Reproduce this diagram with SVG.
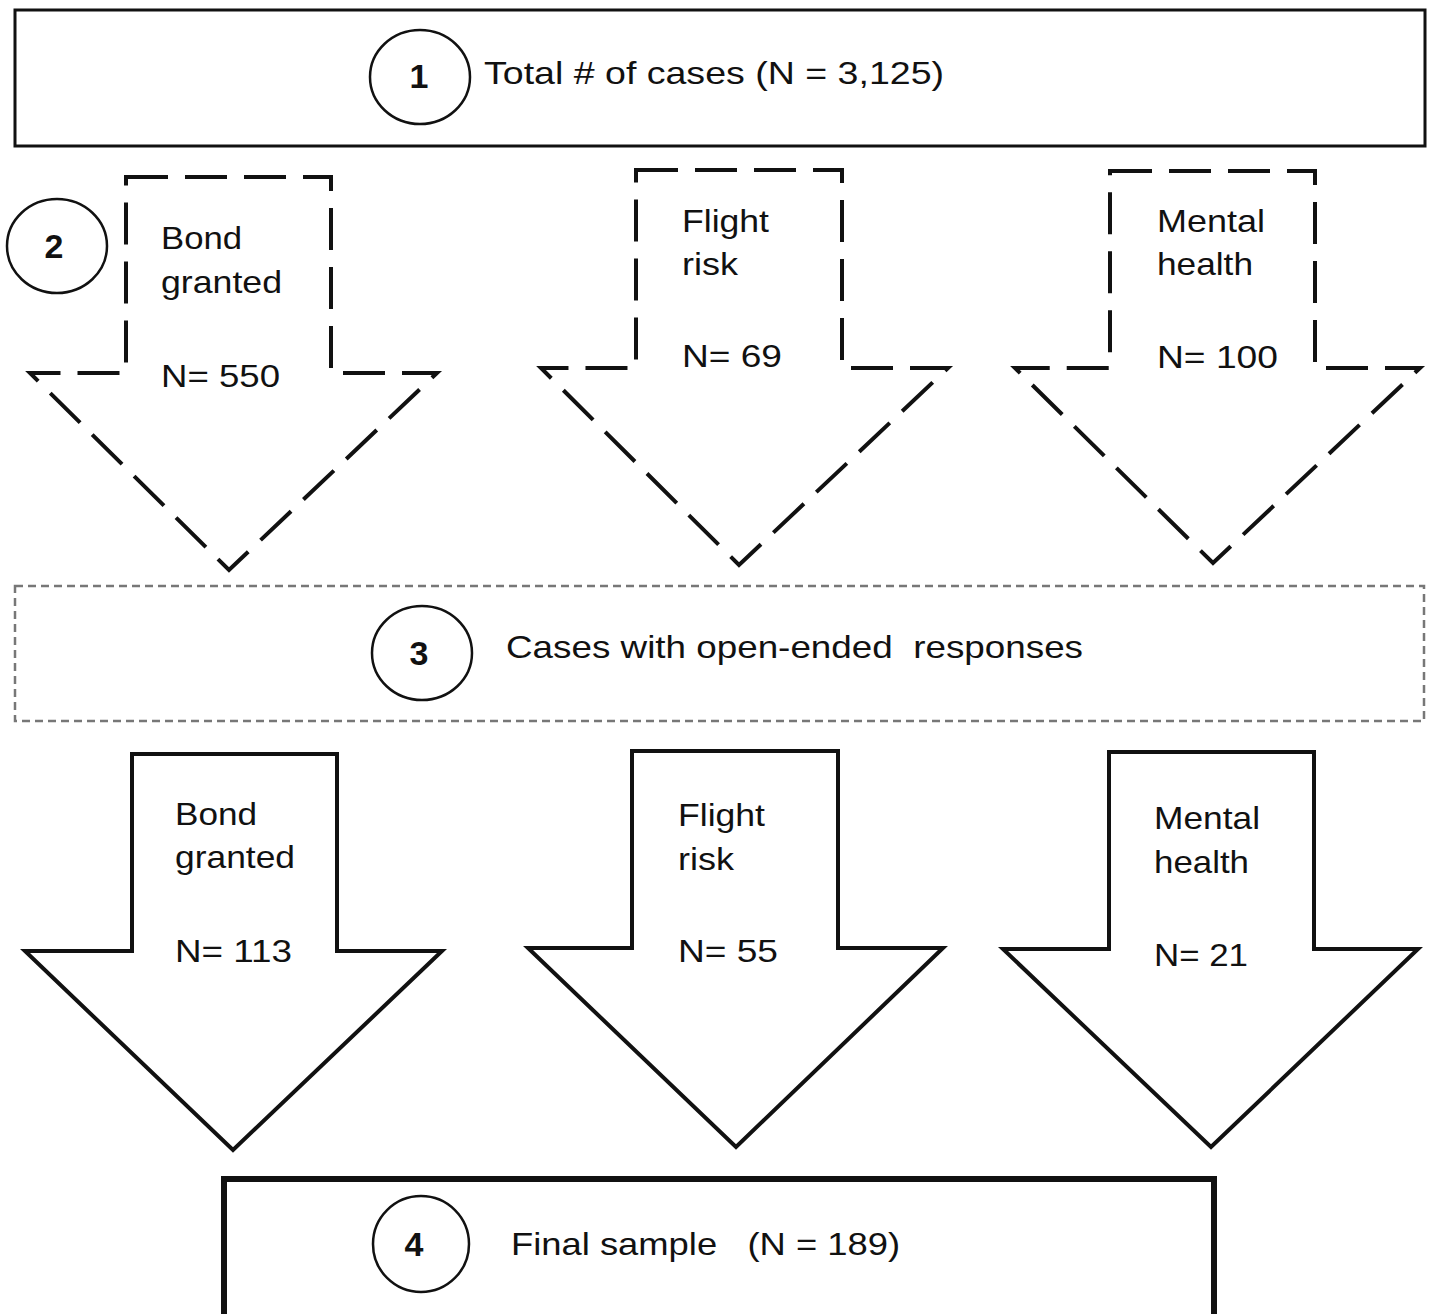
<svg xmlns="http://www.w3.org/2000/svg" width="1429" height="1314" viewBox="0 0 1429 1314">
<style>
.t{font-family:"Liberation Sans",Arial,sans-serif;font-size:32px;fill:#111;white-space:pre}
.d{font-family:"Liberation Sans",Arial,sans-serif;font-size:34px;font-weight:bold;fill:#111;text-anchor:middle}
.c{fill:#fff;stroke:#111;stroke-width:2.5}
.dash{fill:#fff;stroke:#111;stroke-width:4;stroke-dasharray:42 17;stroke-linejoin:miter}
.solid{fill:#fff;stroke:#111;stroke-width:4;stroke-linejoin:miter}
</style>
<rect width="1429" height="1314" fill="#fff"/>
<g id="connectors">
<g id="arrow-bond-1">
<polygon class="dash" points="126,177 331,177 331,373 437,373 229,570 30,373 126,373"/>
<text class="t" x="161" y="249" textLength="81" lengthAdjust="spacingAndGlyphs">Bond</text>
<text class="t" x="161" y="293" textLength="121" lengthAdjust="spacingAndGlyphs">granted</text>
<text class="t" x="161" y="387" textLength="119" lengthAdjust="spacingAndGlyphs">N= 550</text>
</g>
<g id="arrow-flight-1">
<polygon class="dash" points="636,170 842,170 842,368 948,368 739,565 541,368 636,368"/>
<text class="t" x="682" y="232" textLength="87" lengthAdjust="spacingAndGlyphs">Flight</text>
<text class="t" x="682" y="275" textLength="56" lengthAdjust="spacingAndGlyphs">risk</text>
<text class="t" x="682" y="367" textLength="100" lengthAdjust="spacingAndGlyphs">N= 69</text>
</g>
<g id="arrow-mental-1">
<polygon class="dash" points="1110,171 1315,171 1315,368 1420,368 1213,563 1015,368 1110,368"/>
<text class="t" x="1157" y="232" textLength="108" lengthAdjust="spacingAndGlyphs">Mental</text>
<text class="t" x="1157" y="275" textLength="96" lengthAdjust="spacingAndGlyphs">health</text>
<text class="t" x="1157" y="368" textLength="121" lengthAdjust="spacingAndGlyphs">N= 100</text>
</g>
<g id="arrow-bond-2">
<polygon class="solid" points="132,754 337,754 337,951 442,951 233,1150 25,951 132,951"/>
<text class="t" x="175" y="825" textLength="82" lengthAdjust="spacingAndGlyphs">Bond</text>
<text class="t" x="175" y="868" textLength="120" lengthAdjust="spacingAndGlyphs">granted</text>
<text class="t" x="175" y="962" textLength="117" lengthAdjust="spacingAndGlyphs">N= 113</text>
</g>
<g id="arrow-flight-2">
<polygon class="solid" points="632,751 838,751 838,948 943,948 736,1147 528,948 632,948"/>
<text class="t" x="678" y="826" textLength="87" lengthAdjust="spacingAndGlyphs">Flight</text>
<text class="t" x="678" y="870" textLength="56" lengthAdjust="spacingAndGlyphs">risk</text>
<text class="t" x="678" y="962" textLength="100" lengthAdjust="spacingAndGlyphs">N= 55</text>
</g>
<g id="arrow-mental-2">
<polygon class="solid" points="1109,752 1314,752 1314,949 1418,949 1211,1147 1003,949 1109,949"/>
<text class="t" x="1154" y="829" textLength="106" lengthAdjust="spacingAndGlyphs">Mental</text>
<text class="t" x="1154" y="873" textLength="95" lengthAdjust="spacingAndGlyphs">health</text>
<text class="t" x="1154" y="966" textLength="94" lengthAdjust="spacingAndGlyphs">N= 21</text>
</g>
</g>
<g id="node1">
<rect x="15" y="10" width="1410" height="136" fill="#fff" stroke="#111" stroke-width="3"/>
<ellipse class="c" cx="420" cy="77" rx="50" ry="47"/>
<text class="d" x="419" y="88">1</text>
<text class="t" x="484" y="84" textLength="460" lengthAdjust="spacingAndGlyphs">Total # of cases (N = 3,125)</text>
</g>
<g id="node2">
<ellipse class="c" cx="57" cy="246" rx="50" ry="47"/>
<text class="d" x="54" y="258">2</text>
</g>
<g id="node3">
<rect x="15" y="586" width="1409" height="135" fill="none" stroke="#777" stroke-width="2.5" stroke-dasharray="8 5"/>
<ellipse class="c" cx="422" cy="653" rx="50" ry="47"/>
<text class="d" x="419" y="665">3</text>
<text class="t" x="506" y="658" textLength="577" lengthAdjust="spacingAndGlyphs">Cases with open-ended  responses</text>
</g>
<g id="node4">
<rect x="224" y="1179" width="990" height="160" fill="#fff" stroke="#111" stroke-width="6"/>
<ellipse class="c" cx="421" cy="1244" rx="48" ry="48"/>
<text class="d" x="414" y="1256">4</text>
<text class="t" x="511" y="1255" textLength="389" lengthAdjust="spacingAndGlyphs">Final sample   (N = 189)</text>
</g>
</svg>
